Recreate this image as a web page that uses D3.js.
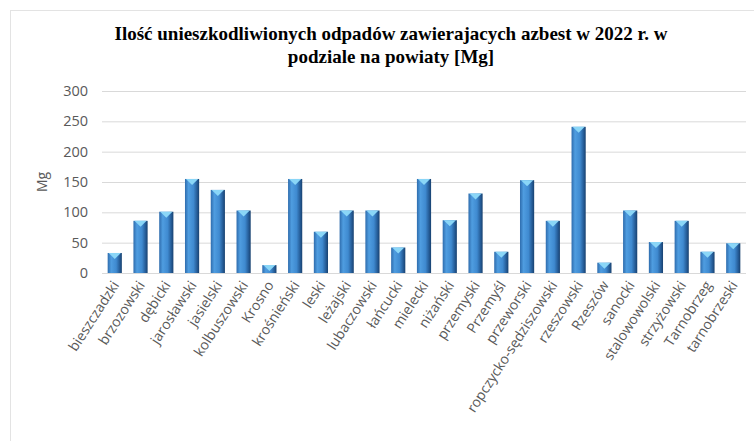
<!DOCTYPE html>
<html>
<head>
<meta charset="utf-8">
<script src="https://d3js.org/d3.v7.min.js"></script>
<style>
  body { margin: 0; background: #fff; }
  text { font-family: 'Open Sans', 'Liberation Sans', sans-serif; }
</style>
</head>
<body>
<div id="chart"></div>
<script>
// dane
var powiaty = ["bieszczadzki","brzozowski","dębicki","jarosławski","jasielski","kolbuszowski","Krosno",
  "krośnieński","leski","leżajski","lubaczowski","łańcucki","mielecki","niżański","przemyski","Przemyśl",
  "przeworski","ropczycko-sędziszowski","rzeszowski","Rzeszów","sanocki","stalowowolski","strzyżowski",
  "Tarnobrzeg","tarnobrzeski"];
var wartosci = [33, 86, 101, 155, 137, 103, 13, 155, 68, 103, 103, 42, 155, 87, 131, 35, 153, 86, 241, 17, 103, 51, 86, 35, 49];
var yTicks = [0, 50, 100, 150, 200, 250, 300];
var tytul = ["Ilość unieszkodliwionych odpadów zawierajacych azbest w 2022 r. w", "podziale na powiaty [Mg]"];

var W = 754, H = 441;
var margin = {left: 102, right: 8, top: 91, bottom: 168};

var svg = d3.select("#chart").append("svg")
    .attr("width", W).attr("height", H);

// ramka obszaru wykresu
svg.append("rect")
    .attr("x", 10.5).attr("y", 10.5)
    .attr("width", W + 20).attr("height", H + 20)
    .attr("fill", "none").attr("stroke", "#e3e3e3");

var x = d3.scaleBand().domain(powiaty)
    .range([margin.left, W - margin.right])
    .paddingInner(0.45).paddingOuter(0.22);
var y = d3.scaleLinear().domain([0, 300])
    .range([H - margin.bottom, margin.top]);

// tytuł
svg.append("g").selectAll("text")
    .data(tytul).enter().append("text")
    .attr("x", 391).attr("y", function(d, i) { return 40 + i * 23; })
    .attr("text-anchor", "middle")
    .style("font-family", "'Liberation Serif', 'Times New Roman', serif")
    .style("font-weight", "bold").style("font-size", "19px")
    .attr("fill", "#000")
    .text(function(d) { return d; });

// siatka + oś Y
var yAxis = svg.append("g")
    .attr("transform", "translate(" + margin.left + ",0)")
    .call(d3.axisLeft(y).tickValues(yTicks).tickSize(-(W - margin.right - margin.left)).tickPadding(14));
yAxis.select(".domain").remove();
yAxis.selectAll(".tick line").attr("stroke", "#d9d9d9");
yAxis.selectAll(".tick text").attr("fill", "#595959").style("font-size", "14.5px");

svg.append("text")
    .attr("transform", "translate(47," + ((y(0) + y(300)) / 2) + ") rotate(-90)")
    .attr("text-anchor", "middle")
    .attr("fill", "#595959").style("font-size", "14px")
    .text("Mg");

// gradient słupków
var defs = svg.append("defs");
var grad = defs.append("linearGradient").attr("id", "barGrad")
    .attr("x1", "0%").attr("x2", "100%").attr("y1", "0%").attr("y2", "0%");
grad.append("stop").attr("offset", "0%").attr("stop-color", "#2e6cad");
grad.append("stop").attr("offset", "25%").attr("stop-color", "#4f9de0");
grad.append("stop").attr("offset", "60%").attr("stop-color", "#3f8ad0");
grad.append("stop").attr("offset", "85%").attr("stop-color", "#255c97");
grad.append("stop").attr("offset", "100%").attr("stop-color", "#18416f");

var bars = svg.append("g").selectAll("g.bar")
    .data(wartosci).enter().append("g").attr("class", "bar");

bars.append("rect")
    .attr("x", function(d, i) { return x(powiaty[i]); })
    .attr("y", function(d) { return y(d); })
    .attr("width", x.bandwidth())
    .attr("height", function(d) { return y(0) - y(d); })
    .attr("fill", "url(#barGrad)");

// jasny "daszek" na górze słupka
bars.append("path")
    .attr("d", function(d, i) {
      var x0 = x(powiaty[i]), bw = x.bandwidth(), t = y(d);
      var h = Math.min(6, y(0) - t);
      return "M" + (x0 + 1) + "," + t + "L" + (x0 + bw - 1) + "," + t + "L" + (x0 + bw / 2) + "," + (t + h) + "Z";
    })
    .attr("fill", "#8ad6f7");

// oś X
svg.append("line")
    .attr("x1", margin.left).attr("x2", W - margin.right)
    .attr("y1", y(0) + 0.5).attr("y2", y(0) + 0.5)
    .attr("stroke", "#d9d9d9");

svg.append("g").selectAll("text.xl")
    .data(powiaty).enter().append("text")
    .attr("class", "xl")
    .attr("text-anchor", "end")
    .attr("fill", "#595959").style("font-size", "14px")
    .attr("transform", function(d) {
      return "translate(" + (x(d) + x.bandwidth() / 2 + 5) + "," + (y(0) + 12) + ") rotate(-57)";
    })
    .text(function(d) { return d; });
</script>
</body>
</html>
